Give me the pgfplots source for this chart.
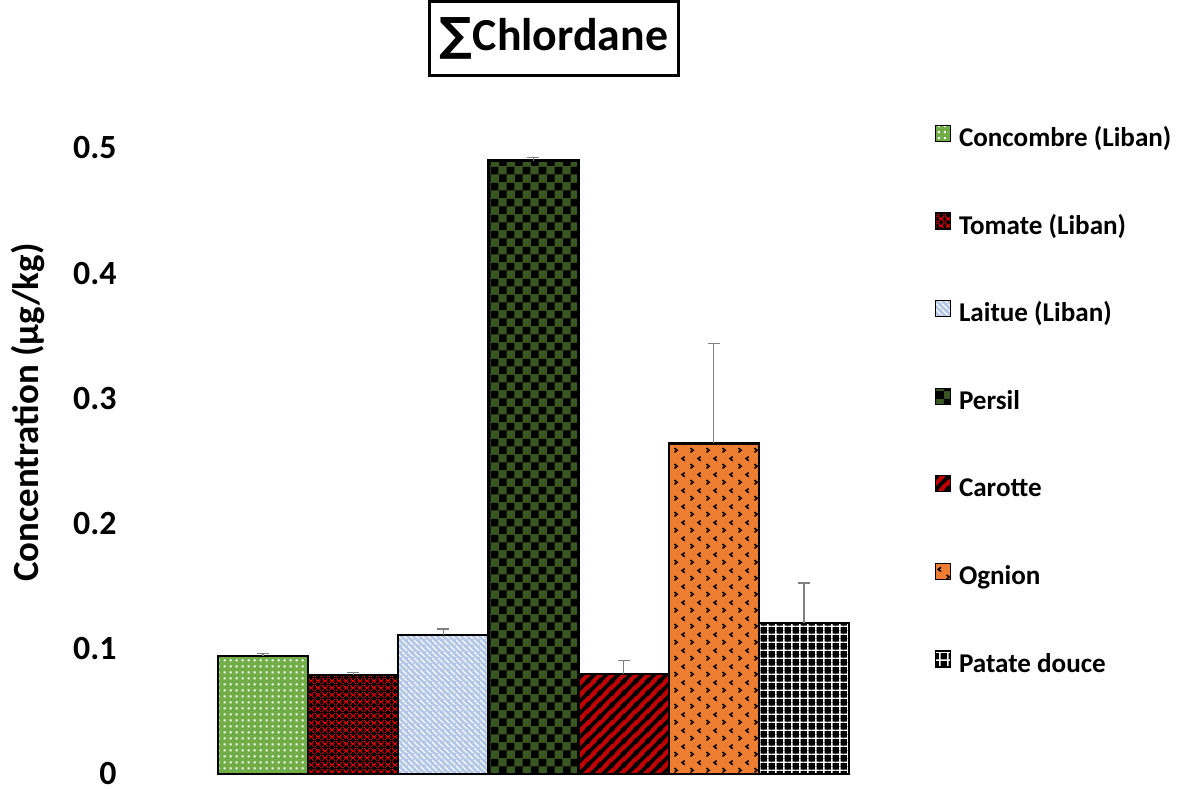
\documentclass[border=0pt]{standalone}
\usepackage{pgfplots}
\pgfplotsset{compat=1.18}
\usepackage{fontspec}
\setmainfont{Carlito}
\newfontfamily\sym{DejaVu Sans}
\usetikzlibrary{patterns.meta}

\definecolor{cgreen}{RGB}{112,173,71}
\definecolor{cblue}{RGB}{180,199,231}
\definecolor{cdgreen}{RGB}{56,87,35}
\definecolor{cred}{RGB}{255,0,0}
\definecolor{cdred}{RGB}{192,0,0}
\definecolor{corange}{RGB}{237,125,49}

\pgfdeclarepattern{name=mydots,type=uncolored,bottom left={\pgfpoint{0bp}{0bp}},top right={\pgfpoint{3bp}{3bp}},tile size={\pgfpoint{3bp}{3bp}},
 code={\pgfpathrectangle{\pgfpoint{1bp}{1bp}}{\pgfpoint{1.1bp}{1.1bp}}\pgfusepath{fill}}}
\pgfdeclarepattern{name=mymesh,type=uncolored,bottom left={\pgfpoint{0bp}{0bp}},top right={\pgfpoint{3.5bp}{3.5bp}},tile size={\pgfpoint{3.5bp}{3.5bp}},
 code={\pgfsetlinewidth{0.35bp}
  \pgfpathmoveto{\pgfpoint{0bp}{0bp}}\pgfpathlineto{\pgfpoint{3.5bp}{3.5bp}}
  \pgfpathmoveto{\pgfpoint{0bp}{3.5bp}}\pgfpathlineto{\pgfpoint{3.5bp}{0bp}}
  \pgfpathmoveto{\pgfpoint{0bp}{1.75bp}}\pgfpathlineto{\pgfpoint{3.5bp}{1.75bp}}
  \pgfusepath{stroke}}}
\pgfdeclarepattern{name=mynw,type=uncolored,bottom left={\pgfpoint{0bp}{0bp}},top right={\pgfpoint{3bp}{3bp}},tile size={\pgfpoint{3bp}{3bp}},
 code={\pgfsetlinewidth{0.6bp}
  \pgfpathmoveto{\pgfpoint{-0.5bp}{3.5bp}}\pgfpathlineto{\pgfpoint{3.5bp}{-0.5bp}}
  \pgfusepath{stroke}}}
\pgfdeclarepattern{name=mychecker,type=uncolored,bottom left={\pgfpoint{0bp}{0bp}},top right={\pgfpoint{7.8bp}{7.8bp}},tile size={\pgfpoint{7.8bp}{7.8bp}},
 code={\pgfpathrectangle{\pgfpoint{0bp}{0bp}}{\pgfpoint{3.9bp}{3.9bp}}
  \pgfpathrectangle{\pgfpoint{3.9bp}{3.9bp}}{\pgfpoint{3.9bp}{3.9bp}}\pgfusepath{fill}}}
\pgfdeclarepattern{name=mythick,type=uncolored,bottom left={\pgfpoint{0bp}{0bp}},top right={\pgfpoint{6bp}{6bp}},tile size={\pgfpoint{6bp}{6bp}},
 code={\pgfsetlinewidth{2bp}
  \pgfpathmoveto{\pgfpoint{-1bp}{-1bp}}\pgfpathlineto{\pgfpoint{7bp}{7bp}}
  \pgfpathmoveto{\pgfpoint{-1bp}{5bp}}\pgfpathlineto{\pgfpoint{1bp}{7bp}}
  \pgfpathmoveto{\pgfpoint{5bp}{-1bp}}\pgfpathlineto{\pgfpoint{7bp}{1bp}}
  \pgfusepath{stroke}}}
\pgfdeclarepattern{name=mymarks,type=uncolored,bottom left={\pgfpoint{0bp}{0bp}},top right={\pgfpoint{8bp}{8bp}},tile size={\pgfpoint{8bp}{8bp}},
 code={\pgfsetlinewidth{0.8bp}
  \pgfpathmoveto{\pgfpoint{1.3bp}{3.1bp}}\pgfpathlineto{\pgfpoint{2.7bp}{2bp}}\pgfpathlineto{\pgfpoint{1.3bp}{0.9bp}}
  \pgfpathmoveto{\pgfpoint{6.7bp}{7.1bp}}\pgfpathlineto{\pgfpoint{5.3bp}{6bp}}\pgfpathlineto{\pgfpoint{6.7bp}{4.9bp}}
  \pgfusepath{stroke}}}
\pgfdeclarepattern{name=mygrid,type=uncolored,bottom left={\pgfpoint{0bp}{0bp}},top right={\pgfpoint{3.9bp}{3.9bp}},tile size={\pgfpoint{3.9bp}{3.9bp}},
 code={\pgfsetlinewidth{0.7bp}
  \pgfpathmoveto{\pgfpoint{0bp}{1.95bp}}\pgfpathlineto{\pgfpoint{3.9bp}{1.95bp}}
  \pgfpathmoveto{\pgfpoint{1.95bp}{0bp}}\pgfpathlineto{\pgfpoint{1.95bp}{3.9bp}}
  \pgfusepath{stroke}}}

\begin{document}
\begin{tikzpicture}
\path[use as bounding box] (-109bp,-7.5bp) rectangle (479.5bp,387bp);
\begin{axis}[
  scale only axis, width=315.5bp, height=313bp,
  at={(0,0)}, anchor=south west,
  ybar, bar width=45.07bp, bar shift=0pt,
  xmin=-0.5, xmax=6.5, ymin=0, ymax=0.5,
  xtick=\empty, ytick={0,0.1,0.2,0.3,0.4,0.5},
  major tick length=0pt,
  axis lines*=left,
  x axis line style={gray!40, line width=0.6bp},
  y axis line style={draw=none},
  clip=false,
  /pgf/number format/assume math mode=true,
  yticklabel style={font=\bfseries\fontsize{17}{17}\selectfont, anchor=east, inner sep=0pt, xshift=-50.5bp},
  ylabel={Concentration (µg/kg)},
  ylabel style={at={(axis description cs:-0.301,0.5775)}, anchor=center, font=\bfseries\fontsize{18.5}{18.5}\selectfont, inner sep=0pt},
  title={{\sym ∑}Chlordane},
  title style={at={(axis description cs:0.5325,1.156)}, anchor=center, draw, line width=1.5bp, font=\bfseries\fontsize{23}{23}\selectfont, minimum width=124bp, minimum height=37bp, inner sep=0pt},
  legend cell align=left,
  legend style={draw=none, fill=none, inner sep=0pt, outer sep=0pt, row sep=31bp, column sep=4bp,
    at={(axis description cs:1.136,1.037)}, anchor=north west,
    font=\bfseries\fontsize{13.6}{13.6}\selectfont,
    nodes={inner sep=0pt, text height=8bp, text depth=2bp}},
  legend image code/.code={\draw[#1, line width=0.6bp] (0bp,-0.5bp) rectangle (7.5bp,7.5bp);},
  error bars/y dir=plus, error bars/y explicit,
  error bars/error bar style={gray, line width=0.6bp},
  error bars/error mark options={rotate=90, gray, mark size=3bp, line width=0.6bp},
  every axis plot/.append style={draw=black, line width=1.2bp},
]
\addplot[fill=cgreen, postaction={pattern={mydots}, pattern color=white}] coordinates {(0,0.0942) +- (0,0.0018)};
\addlegendentry{Concombre (Liban)}
\addplot[fill=black, postaction={pattern={mymesh}, pattern color=cred}] coordinates {(1,0.079) +- (0,0.002)};
\addlegendentry{Tomate (Liban)}
\addplot[fill=cblue, postaction={pattern={mynw}, pattern color=white}] coordinates {(2,0.111) +- (0,0.0048)};
\addlegendentry{Laitue (Liban)}
\addplot[fill=cdgreen, postaction={pattern={mychecker}, pattern color=black}] coordinates {(3,0.490) +- (0,0.0025)};
\addlegendentry{Persil}
\addplot[fill=cdred, postaction={pattern={mythick}, pattern color=black}] coordinates {(4,0.0799) +- (0,0.011)};
\addlegendentry{Carotte}
\addplot[fill=corange, postaction={pattern={mymarks}, pattern color=black}] coordinates {(5,0.264) +- (0,0.080)};
\addlegendentry{Ognion}
\addplot[fill=black, postaction={pattern={mygrid}, pattern color=white}] coordinates {(6,0.1208) +- (0,0.0318)};
\addlegendentry{Patate douce}
\end{axis}
\end{tikzpicture}
\end{document}
